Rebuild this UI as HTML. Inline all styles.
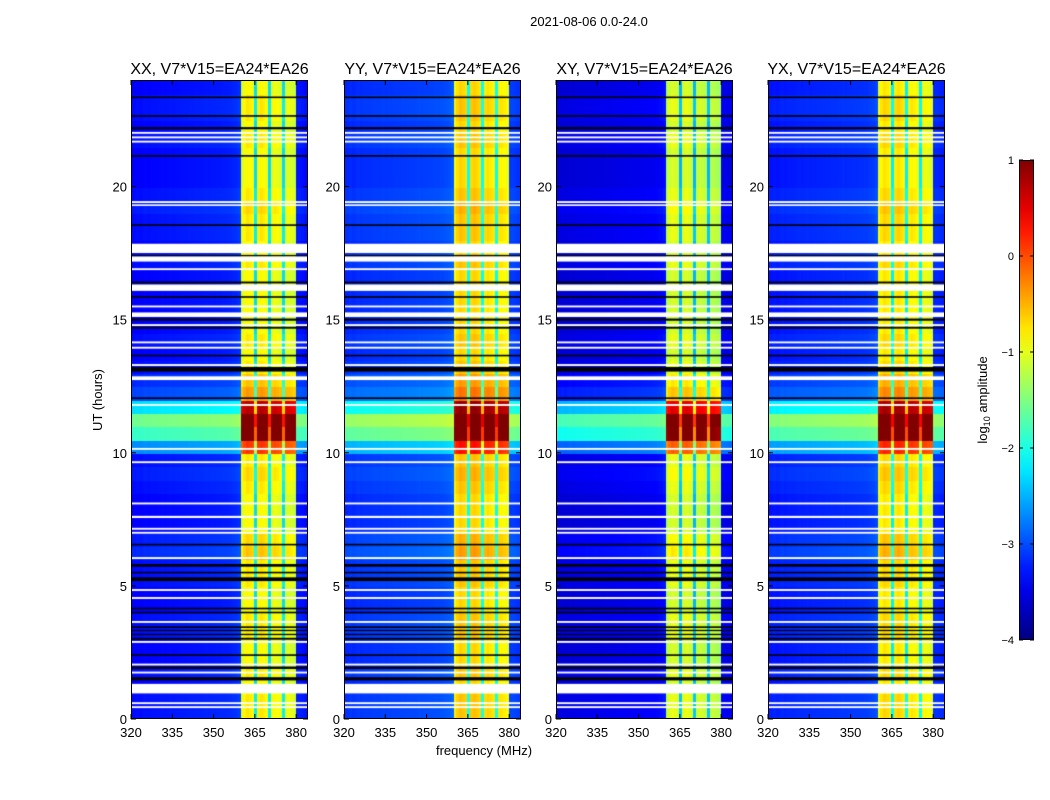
<!DOCTYPE html>
<html><head><meta charset="utf-8"><style>
body{margin:0;background:#fff;width:1050px;height:800px;overflow:hidden;font-family:"Liberation Sans",sans-serif}
canvas{position:absolute}
svg{position:absolute;left:0;top:0}
</style></head><body>
<div id="root"></div>
<svg id="svg" width="1050" height="800"></svg>
<script>
// ---- data ----
const panelTitles = ["XX, V7*V15=EA24*EA26","YY, V7*V15=EA24*EA26","XY, V7*V15=EA24*EA26","YX, V7*V15=EA24*EA26"];
const panelOffsets = [0, 0.2, -0.2, 0.1];
const xTicks = [320,335,350,365,380];
const yTicks = [0,5,10,15,20];
const cbTicks = [1,0,-1,-2,-3,-4];
// log10 amplitude per 1 MHz channel, 320..383 MHz
const freqProfile = [
-3.4,-3.4,-3.38,-3.4,-3.38,-3.36,-3.38,-3.36,-3.36,-3.36,
-3.35,-3.34,-3.35,-3.34,-3.33,-3.34,-3.33,-3.33,-3.32,-3.32,
-3.32,-3.31,-3.31,-3.3,-3.3,-3.3,-3.29,-3.28,-3.29,-3.28,
-3.28,-3.27,-3.27,-3.26,-3.26,-3.25,-3.24,-3.22,-3.2,-3.15,
-1.1,-0.95,-0.85,-0.9,-0.95,-2.3,-0.9,-0.85,-0.9,-0.95,
-2.3,-1.0,-0.95,-1.0,-1.05,-2.3,-1.05,-1.05,-1.1,-1.15,
-3.3,-3.3,-3.32,-3.35];
// additive boost per 0.5 h bin, 0..24 h
const timeProfile = [
0.1,0.1,0.0,0.1,0.0,0.0,0.1,0.1,0.0,0.0,
0.1,0.1,0.3,0.2,0.0,0.0,0.0,0.1,0.2,0.1,
1.0,2.2,2.6,1.6,0.5,0.3,0.1,0.0,0.1,0.0,
0.0,0.0,0.0,0.0,0.1,0.0,0.1,0.1,0.2,0.1,
0.0,0.0,0.0,0.1,0.0,0.1,0.1,0.0];
// flagged (white) intervals in hours
const whiteRows = [[22.05,21.98],[21.88,21.81],[21.72,21.65],[19.45,19.38],[19.33,19.27],[17.85,17.5],[17.38,17.18],[16.93,16.86],[16.32,16.08],[15.53,15.46],[15.27,15.1],[14.83,14.76],[14.18,14.11],[13.98,13.91],[13.33,13.26],[12.87,12.73],
[11.83,11.76],[10.18,10.11],[9.68,9.61],[8.13,8.06],[7.63,7.55],[7.18,7.11],[7.03,6.96],[6.08,6.01],[4.88,4.81],[4.58,4.51],[3.68,3.61],[2.93,2.86],[2.08,2.01],[1.78,1.71],[1.32,0.96],[0.63,0.56],[0.48,0.41]];
// dropped (black) intervals in hours
const blackRows = [[23.38,23.32],[22.68,22.62],[22.23,22.15],[21.18,21.12],[18.58,18.52],[17.43,17.38],[16.43,16.36],[15.88,15.82],[15.04,14.96],[14.73,14.66],[13.68,13.62],[13.22,13.05],[12.08,12.02],
[6.58,6.52],[5.82,5.72],[5.53,5.47],[5.32,5.18],[4.18,4.12],[4.03,3.97],[3.48,3.42],[3.35,3.3],[3.2,3.15],[3.05,2.98],[2.43,2.37],[1.97,1.88],[1.57,1.45]];

// ---- layout ----
const panelX=[131,344,556,768], PW=177, PT=80, PB=719;
const fMin=320,fMax=384.3,hMax=24;
function xs(p,f){return panelX[p]+(f-fMin)/(fMax-fMin)*PW;}
function ys(h){return PB-h/hMax*(PB-PT);}
function jet(v){let x=(v+4)/5;x=Math.max(0,Math.min(1,x));
 const c=t=>Math.round(255*Math.max(0,Math.min(1,1.5-Math.abs(4*x-t))));
 return `rgb(${c(3)},${c(2)},${c(1)})`;}

const svg=document.getElementById('svg');const NS="http://www.w3.org/2000/svg";
function el(tag,attrs,parent){const e=document.createElementNS(NS,tag);for(const k in attrs)e.setAttribute(k,attrs[k]);(parent||svg).appendChild(e);return e;}
function txt(x,y,s,size,anchor,parent){const t=el('text',{x:x,y:y,'font-size':size,'text-anchor':anchor||'middle','font-family':'Liberation Sans, sans-serif',fill:'#000'},parent);t.textContent=s;return t;}

const root=document.getElementById('root');
for(let p=0;p<4;p++){
 const cv=document.createElement('canvas');
 cv.width=PW;cv.height=PB-PT;cv.style.left=panelX[p]+'px';cv.style.top=PT+'px';
 
 
 root.appendChild(cv);
 const ctx=cv.getContext('2d');
 for(let t=0;t<timeProfile.length;t++){
  const y0=ys((t+1)*0.5)-PT,y1=ys(t*0.5)-PT;
  for(let f=0;f<freqProfile.length;f++){
   const x0=xs(p,fMin+f)-panelX[p],x1=xs(p,fMin+f+1)-panelX[p];
   const inBand=freqProfile[f]>-2.5;
   const boost=timeProfile[t]*(inBand?1:0.7);
   ctx.fillStyle=jet(freqProfile[f]+boost+panelOffsets[p]);
   ctx.fillRect(Math.floor(x0),Math.floor(y0),Math.ceil(x1-x0)+1,Math.ceil(y1-y0)+1);
  }
 }
 ctx.fillStyle='#fff';
 whiteRows.forEach(r=>{const a=ys(r[0])-PT,b=ys(r[1])-PT;ctx.fillRect(0,a,PW,Math.max(1.5,b-a));});
 ctx.fillStyle='#000';
 blackRows.forEach(r=>{const a=ys(r[0])-PT,b=ys(r[1])-PT;ctx.fillRect(0,a,PW,Math.max(1.2,b-a));});

 const g=el('g',{});
 
 
 el('rect',{x:panelX[p]+0.5,y:PT+0.5,width:PW-1,height:PB-PT-1,fill:'none',stroke:'#000','stroke-width':1},g);
 const tt=txt(panelX[p]+PW/2,74,panelTitles[p],16,'middle',g);
 
 
 xTicks.forEach(v=>{const x=xs(p,v);
  el('line',{x1:x,x2:x,y1:PB,y2:PB-5,stroke:'#000'},g);el('line',{x1:x,x2:x,y1:PT,y2:PT+5,stroke:'#000'},g);
  const l=txt(x,737,String(v),13,'middle',g);
  
  });
 yTicks.forEach(v=>{const y=ys(v);
  el('line',{x1:panelX[p],x2:panelX[p]+5,y1:y,y2:y,stroke:'#000'},g);el('line',{x1:panelX[p]+PW,x2:panelX[p]+PW-5,y1:y,y2:y,stroke:'#000'},g);
  const l=txt(panelX[p]-4,y+5,String(v),13,'end',g);
  
  });
}
let s=txt(589,26,'2021-08-06 0.0-24.0',13);


s=txt(484,755,'frequency (MHz)',13);


s=txt(0,0,'UT (hours)',13);s.setAttribute('transform','translate(102,400) rotate(-90)');



// colorbar
const cbX=1019,cbW=15,cbT=160,cbB=640;
const defs=el('defs',{});const lg=el('linearGradient',{id:'jetg',x1:0,y1:1,x2:0,y2:0},defs);
for(let i=0;i<=20;i++){el('stop',{offset:i/20,'stop-color':jet(-4+5*i/20)},lg);}
const cb=el('rect',{x:cbX+0.5,y:cbT+0.5,width:cbW-1,height:cbB-cbT-1,fill:'url(#jetg)',stroke:'#000'});


cbTicks.forEach(v=>{const y=cbB-(v+4)/5*(cbB-cbT);
 el('line',{x1:cbX,x2:cbX+4,y1:y,y2:y,stroke:'#000'});el('line',{x1:cbX+cbW,x2:cbX+cbW-4,y1:y,y2:y,stroke:'#000'});
 const l=txt(1014,y+4,v<0?'\u2212'+(-v):String(v),11,'end');
 
 });
const cl=el('text',{transform:'translate(987,400) rotate(-90)','font-size':13,'text-anchor':'middle','font-family':'Liberation Sans, sans-serif'});
cl.innerHTML='log<tspan font-size="9" dy="3">10</tspan><tspan dy="-3"> amplitude</tspan>';


</script>
</body></html>
